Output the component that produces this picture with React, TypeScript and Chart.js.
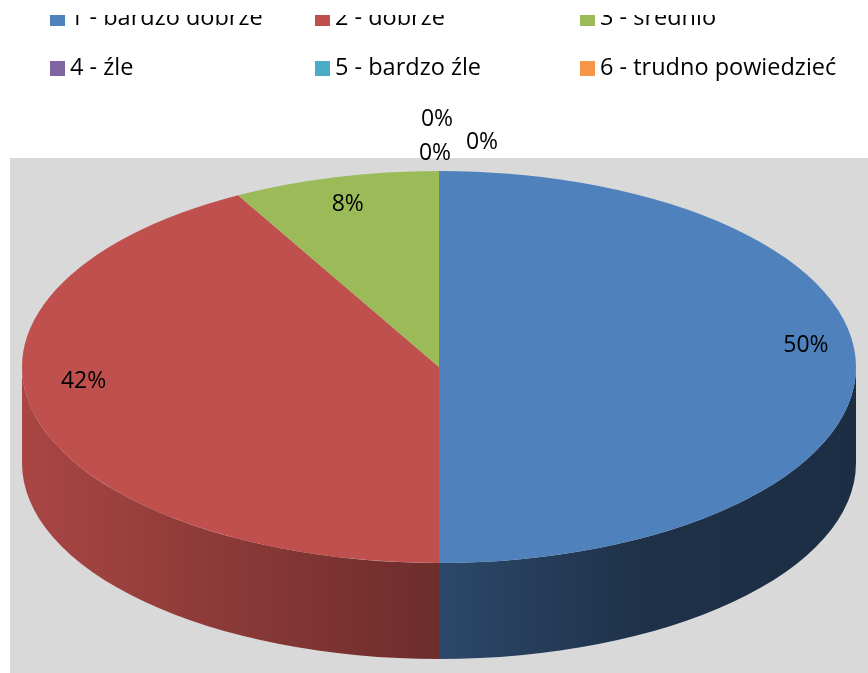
import React, { useEffect, useRef } from "react";
import { Chart, registerables } from "chart.js";

Chart.register(...registerables);

// ---- data ----
const categories = [
  "1 - bardzo dobrze",
  "2 - dobrze",
  "3 - średnio",
  "4 - źle",
  "5 - bardzo źle",
  "6 - trudno powiedzieć",
];
const values = [50, 42, 8, 0, 0, 0];
const colors = ["#4F81BD", "#C0504D", "#9BBB59", "#8064A2", "#4BACC6", "#F79646"];

// ---- layout constants (3D look) ----
const W = 868;
const H = 673;
const RX = 417;
const RY = 196;
const DEPTH = 96;
const LABEL_FONT = "23px 'Open Sans', 'Noto Sans', sans-serif";
const LEGEND_COLS = [50, 315, 580];
const LEGEND_ROWS = [26, 76];
const ZERO_LABEL_OFFSETS = [
  [-4, -18],
  [43, -29],
  [-2, -52],
];

function hexToRgb(hex: string) {
  const n = parseInt(hex.slice(1), 16);
  return [(n >> 16) & 255, (n >> 8) & 255, n & 255];
}
function shade(hex: string, f: number) {
  const [r, g, b] = hexToRgb(hex);
  return `rgb(${Math.round(r * f)},${Math.round(g * f)},${Math.round(b * f)})`;
}

const pie3d = {
  id: "pie3d",
  beforeDatasetsDraw(chart: any) {
    const meta = chart.getDatasetMeta(0);
    const arcs = meta.data as any[];
    const ctx = chart.ctx as CanvasRenderingContext2D;
    ctx.save();
    if (!arcs.length) return;
    const a0 = arcs[0];
    const cx = a0.x;
    const cy = a0.y;
    const R = a0.outerRadius;
    // side walls (front half only)
    arcs.forEach((arc: any, i: number) => {
      const s = arc.startAngle;
      const e = arc.endAngle;
      if (e - s <= 1e-6) return;
      for (const shift of [-2 * Math.PI, 0, 2 * Math.PI]) {
        const a1 = Math.max(s + shift, 0);
        const a2 = Math.min(e + shift, Math.PI);
        if (a2 <= a1) continue;
        const grad = ctx.createLinearGradient(cx - RX, 0, cx + RX, 0);
        const base = colors[i % colors.length];
        grad.addColorStop(0, shade(base, 0.88));
        grad.addColorStop(0.5, shade(base, 0.56));
        grad.addColorStop(0.75, shade(base, 0.38));
        grad.addColorStop(1, shade(base, 0.36));
        ctx.beginPath();
        ctx.ellipse(cx, cy, RX, RY, 0, a1, a2, false);
        ctx.lineTo(cx + RX * Math.cos(a2), cy + RY * Math.sin(a2) + DEPTH);
        ctx.ellipse(cx, cy + DEPTH, RX, RY, 0, a2, a1, true);
        ctx.closePath();
        ctx.fillStyle = grad;
        ctx.fill();
      }
    });
    // squash the library-drawn pie top into an ellipse
    ctx.translate(cx, cy);
    ctx.scale(RX / R, RY / R);
    ctx.translate(-cx, -cy);
  },
  afterDatasetsDraw(chart: any) {
    const ctx = chart.ctx as CanvasRenderingContext2D;
    ctx.restore();
    const meta = chart.getDatasetMeta(0);
    const arcs = meta.data as any[];
    if (!arcs.length) return;
    const cx = arcs[0].x;
    const cy = arcs[0].y;
    const total = values.reduce((a, b) => a + b, 0);
    ctx.save();
    ctx.font = LABEL_FONT;
    ctx.fillStyle = "#000";
    ctx.textAlign = "center";
    ctx.textBaseline = "middle";
    let zi = 0;
    arcs.forEach((arc: any, i: number) => {
      const v = values[i];
      const txt = Math.round((v / total) * 100) + "%";
      if (v > 0) {
        const m = (arc.startAngle + arc.endAngle) / 2;
        const x = cx + RX * 0.88 * Math.cos(m);
        const y = cy + RY * 0.85 * Math.sin(m) - 22 * (1 + Math.sin(m));
        ctx.fillText(txt, x, y);
      } else {
        const off = ZERO_LABEL_OFFSETS[zi % ZERO_LABEL_OFFSETS.length];
        zi++;
        ctx.fillText(txt, cx + off[0], cy - RY + off[1]);
      }
    });
    ctx.restore();
  },
};

export default function App() {
  const canvasRef = useRef<HTMLCanvasElement | null>(null);

  useEffect(() => {
    const canvas = canvasRef.current;
    if (!canvas) return;
    const chart = new Chart(canvas, {
      type: "pie",
      data: {
        labels: categories,
        datasets: [
          {
            data: values,
            backgroundColor: colors,
            borderWidth: 0,
            clip: false as any,
          } as any,
        ],
      },
      options: {
        responsive: false,
        devicePixelRatio: 1,
        animation: false,
        layout: { padding: { left: 22, right: 12, top: 61, bottom: 0 } },
        plugins: {
          legend: { display: false },
          tooltip: { enabled: false },
        },
      } as any,
      plugins: [pie3d as any],
    });
    return () => chart.destroy();
  }, []);

  return (
    <div
      style={{
        position: "fixed",
        left: 0,
        top: 0,
        width: W,
        height: H,
        background: "#fff",
        overflow: "hidden",
        fontFamily: "'Open Sans', 'Noto Sans', sans-serif",
      }}
    >
      <div
        style={{
          position: "absolute",
          left: 10,
          top: 158,
          width: W - 10,
          height: H - 158,
          background: "#D9D9D9",
        }}
      />
      <canvas
        ref={canvasRef}
        width={W}
        height={H}
        style={{ position: "absolute", left: 0, top: 0, width: W, height: H }}
      />
      <div
        style={{
          position: "absolute",
          left: 0,
          top: 15,
          width: W,
          height: 90,
          overflow: "hidden",
        }}
      >
        {categories.map((c, i) => {
          const col = i % 3;
          const row = Math.floor(i / 3);
          const x = LEGEND_COLS[col];
          const base = LEGEND_ROWS[row] - 15;
          return (
            <React.Fragment key={c}>
              <div
                style={{
                  position: "absolute",
                  left: x,
                  top: base - 15,
                  width: 15,
                  height: 15,
                  background: colors[i],
                }}
              />
              <div
                style={{
                  position: "absolute",
                  left: x + 20,
                  top: base - 21,
                  fontSize: 23.5,
                  lineHeight: "23.5px",
                  color: "#000",
                  whiteSpace: "nowrap",
                }}
              >
                {c}
              </div>
            </React.Fragment>
          );
        })}
      </div>
    </div>
  );
}
